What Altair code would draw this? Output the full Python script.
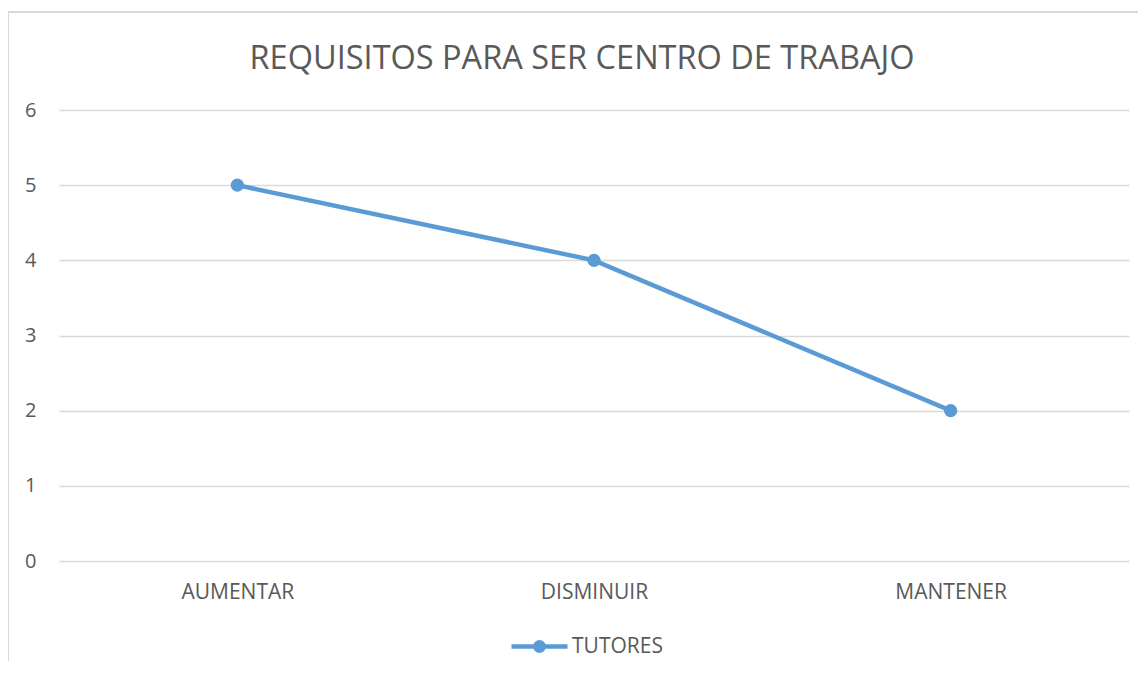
import altair as alt
import pandas as pd

categories = ["AUMENTAR", "DISMINUIR", "MANTENER"]
values = [5, 4, 2]
series = ["TUTORES"] * 3

df = pd.DataFrame({"cat": categories, "val": values, "serie": series})

FONT = "Open Sans"
TXT = "#595959"
GRID = "#D9D9D9"
BLUE = "#5B9BD5"

W, H = 1070, 451

legend_symbol = ("M-1,0L1,0M-0.15,0A0.15,0.15,0,1,1,0.15,0A0.15,0.15,0,1,1,-0.15,0Z")

line = alt.Chart(df).mark_line(
    strokeWidth=4.5,
    point=alt.OverlayMarkDef(filled=True, size=175, opacity=1),
).encode(
    x=alt.X("cat:N", sort=categories, title=None,
            scale=alt.Scale(paddingInner=0, paddingOuter=0),
            axis=alt.Axis(labelAngle=0, labelFont=FONT, labelFontSize=21,
                          labelColor=TXT, ticks=False, domain=False,
                          labelPadding=20, grid=False)),
    y=alt.Y("val:Q", title=None, scale=alt.Scale(domain=[0, 6], nice=False),
            axis=alt.Axis(values=[0, 1, 2, 3, 4, 5, 6], labelFont=FONT,
                          labelFontSize=20, labelColor=TXT, ticks=False,
                          domain=False, labelPadding=23, gridColor=GRID,
                          gridWidth=1.5)),
    color=alt.Color("serie:N", title=None,
                    scale=alt.Scale(domain=["TUTORES"], range=[BLUE]),
                    legend=alt.Legend(orient="none", legendX=450, legendY=506,
                                      symbolType=legend_symbol, symbolSize=3136,
                                      symbolStrokeWidth=4.5,
                                      symbolStrokeColor=BLUE,
                                      symbolFillColor=BLUE,
                                      labelFont=FONT, labelFontSize=21,
                                      labelColor=TXT, labelOffset=2)),
)

border_top = alt.Chart(df).mark_rule(color=GRID, strokeWidth=2).encode(
    x=alt.value(-51), x2=alt.value(W + 9), y=alt.value(-98))
border_left = alt.Chart(df).mark_rule(color=GRID, strokeWidth=2).encode(
    x=alt.value(-51), y=alt.value(-98), y2=alt.value(H + 110))

chart = alt.layer(border_top, border_left, line).properties(
    width=W, height=H,
    background="white",
    title=alt.Title("REQUISITOS PARA SER CENTRO DE TRABAJO", font=FONT,
                    fontSize=32.5, fontWeight="normal", color=TXT,
                    anchor="middle", dx=-12, offset=-90, baseline="alphabetic"),
    autosize=alt.AutoSizeParams(type="none"),
    padding={"left": 51, "top": 102, "right": 9, "bottom": 100},
).configure_view(stroke=None)

chart.save("out.html", embed_options={"renderer": "svg", "actions": False})
